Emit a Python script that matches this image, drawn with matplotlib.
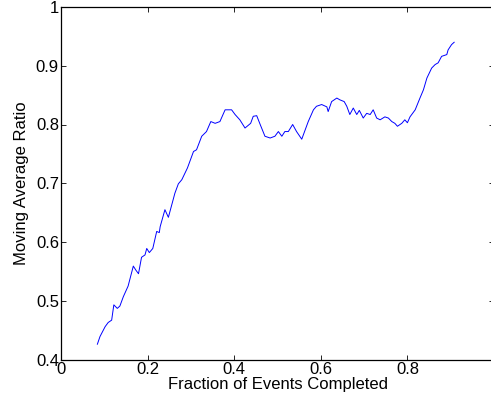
import matplotlib
matplotlib.use("Agg")
import matplotlib.pyplot as plt

fraction = [0.084, 0.090, 0.102, 0.109, 0.117, 0.122, 0.130, 0.136, 0.144, 0.155,
            0.167, 0.173, 0.179, 0.186, 0.194, 0.198, 0.204, 0.212, 0.221, 0.227,
            0.229, 0.240, 0.248, 0.263, 0.271, 0.279, 0.292, 0.306, 0.313, 0.325,
            0.336, 0.346, 0.356, 0.367, 0.379, 0.394, 0.402, 0.413, 0.425, 0.438,
            0.444, 0.452, 0.460, 0.471, 0.483, 0.494, 0.502, 0.510, 0.517, 0.525,
            0.535, 0.544, 0.556, 0.564, 0.571, 0.583, 0.590, 0.602, 0.614, 0.617,
            0.625, 0.637, 0.644, 0.654, 0.660, 0.667, 0.675, 0.683, 0.689, 0.698,
            0.706, 0.714, 0.721, 0.729, 0.737, 0.748, 0.756, 0.764, 0.771, 0.777,
            0.787, 0.794, 0.800, 0.806, 0.818, 0.829, 0.837, 0.845, 0.856, 0.864,
            0.871, 0.879, 0.891, 0.894, 0.902, 0.908]
ratio = [0.426, 0.439, 0.456, 0.463, 0.467, 0.493, 0.487, 0.491, 0.507, 0.525,
         0.559, 0.552, 0.546, 0.574, 0.578, 0.589, 0.582, 0.589, 0.618, 0.616,
         0.626, 0.655, 0.642, 0.683, 0.699, 0.706, 0.726, 0.754, 0.757, 0.780,
         0.788, 0.805, 0.802, 0.805, 0.825, 0.825, 0.817, 0.808, 0.794, 0.802,
         0.814, 0.815, 0.800, 0.780, 0.777, 0.780, 0.788, 0.780, 0.788, 0.788,
         0.800, 0.788, 0.775, 0.791, 0.805, 0.825, 0.831, 0.834, 0.830, 0.822,
         0.839, 0.845, 0.842, 0.839, 0.831, 0.817, 0.828, 0.817, 0.824, 0.811,
         0.819, 0.817, 0.825, 0.811, 0.808, 0.813, 0.811, 0.805, 0.802, 0.797,
         0.802, 0.808, 0.803, 0.813, 0.825, 0.845, 0.859, 0.879, 0.896, 0.902,
         0.905, 0.916, 0.919, 0.927, 0.936, 0.940]

x_ticks = [0, 0.2, 0.4, 0.6, 0.8, 1]
x_tick_labels = ["0", "0.2", "0.4", "0.6", "0.8", "1"]
y_ticks = [0.4, 0.5, 0.6, 0.7, 0.8, 0.9, 1]
y_tick_labels = ["0.4", "0.5", "0.6", "0.7", "0.8", "0.9", "1"]

plt.rcParams['font.family'] = ['Liberation Sans', 'DejaVu Sans']

fig = plt.figure(figsize=(4.91, 4.04), dpi=100)
ax = fig.add_axes([61/491, 1 - 359.5/404, 433/491, 352.5/404])
ax.plot(fraction, ratio, color=(0, 0, 1), linewidth=0.7)
ax.set_xlim(0, 1)
ax.set_ylim(0.4, 1)
ax.set_xticks(x_ticks)
ax.set_xticklabels(x_tick_labels)
ax.set_yticks(y_ticks)
ax.set_yticklabels(y_tick_labels)
ax.tick_params(direction='in', length=3.5, width=0.6, labelsize=12,
               top=True, right=True, pad=1.5)
for s in ax.spines.values():
    s.set_linewidth(0.9)
ax.set_xlabel("Fraction of Events Completed", fontsize=12, labelpad=0)
ax.set_ylabel("Moving Average Ratio", fontsize=12, labelpad=5)
fig.savefig("out.png", dpi=100)
